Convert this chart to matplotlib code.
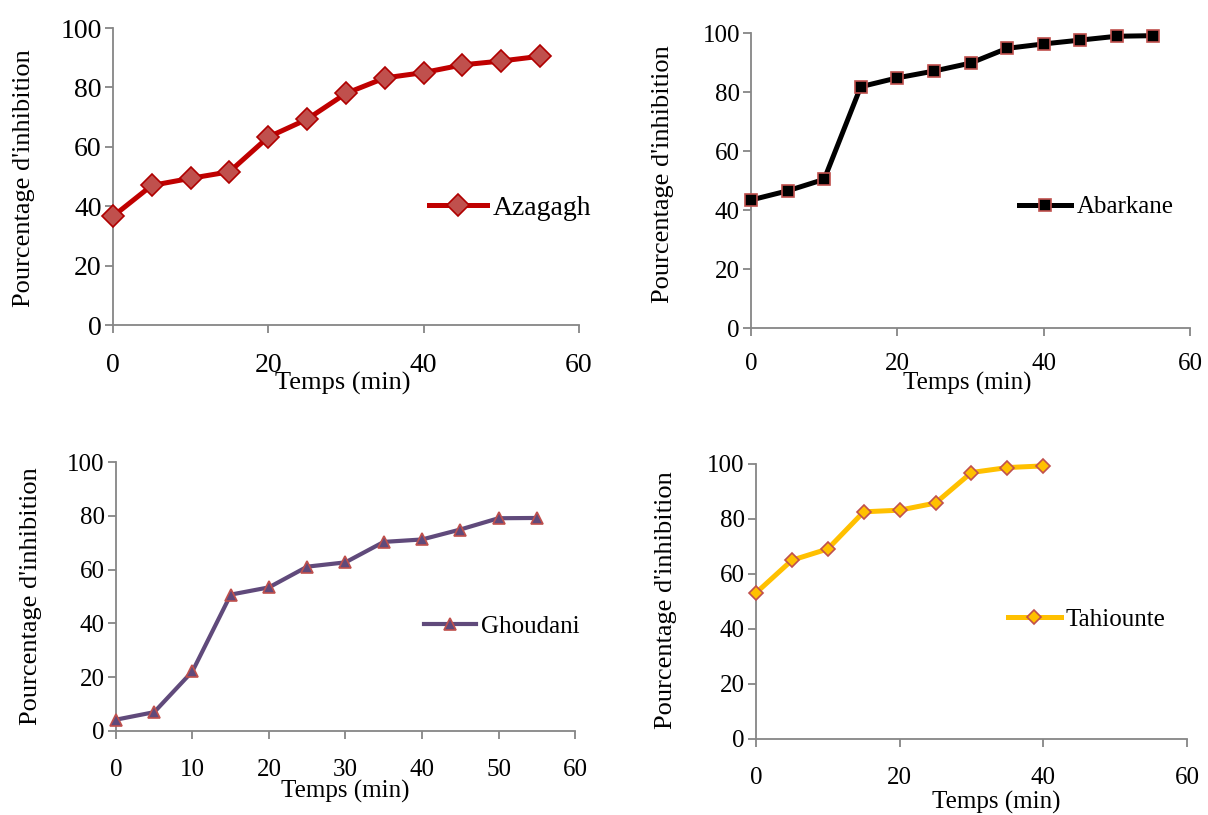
import numpy as np
import matplotlib
matplotlib.use('Agg')
import matplotlib.pyplot as plt

# Data
temps = [0, 5, 10, 15, 20, 25, 30, 35, 40, 45, 50, 55]
temps_tahiounte = [0, 5, 10, 15, 20, 25, 30, 35, 40]

azagagh = [36.6, 47.0, 49.4, 51.6, 63.3, 69.3, 78.0, 83.2, 85.0, 87.6, 88.9, 90.5]
abarkane = [43.4, 46.5, 50.4, 81.8, 84.8, 87.1, 89.8, 94.8, 96.3, 97.6, 98.9, 99.1]
ghoudani = [4.2, 7.0, 22.2, 50.7, 53.4, 61.1, 62.7, 70.3, 71.2, 74.9, 79.1, 79.2]
tahiounte = [53.1, 65.0, 69.1, 82.6, 83.2, 85.8, 96.9, 98.7, 99.3]

plt.rcParams['font.family'] = ['Liberation Serif', 'DejaVu Serif']
AXIS_GRAY = '#868686'

fig = plt.figure(figsize=(12.08, 8.15), dpi=100)

# (axes rect, x, y, name, line colour, marker, marker face, marker edge,
#  line width, marker size, tick font, label font, xticks, legend pos,
#  xlabel pos, ylabel pos, xtick pad)
panels = [
    ([0.0935, 0.6012, 0.3858, 0.3644], temps, azagagh, 'Azagagh',
     '#C00000', 'D', '#C0504D', '#B00000', 3.6, 11, 20, 19,
     [0, 20, 40, 60], (0.678, 0.394), (0.494, -0.197), (-0.19, 0.495), 14),
    ([0.6217, 0.5975, 0.3634, 0.3620], temps, abarkane, 'Abarkane',
     '#000000', 's', '#000000', '#C0504D', 3.6, 8, 18, 18,
     [0, 20, 40, 60], (0.61, 0.41), (0.492, -0.188), (-0.2, 0.52), 12),
    ([0.0960, 0.1031, 0.3800, 0.3300], temps, ghoudani, 'Ghoudani',
     '#604A7B', '^', '#604A7B', '#C0504D', 3.0, 9, 18, 18,
     [0, 10, 20, 30, 40, 50, 60], (0.671, 0.387), (0.499, -0.225), (-0.185, 0.5), 14),
    ([0.6258, 0.0933, 0.3568, 0.3374], temps_tahiounte, tahiounte, 'Tahiounte',
     '#FFC000', 'D', '#FFC000', '#C0504D', 3.6, 7, 18, 18,
     [0, 20, 40, 60], (0.585, 0.433), (0.557, -0.231), (-0.208, 0.505), 14),
]

for (rect, x, y, name, color, marker, mface, medge, lw, ms, tfs, lfs,
     xt, legpos, xlpos, ylpos, xpad) in panels:
    ax = fig.add_axes(rect)
    ax.plot(x, y, color=color, lw=lw, marker=marker, markersize=ms,
            markerfacecolor=mface, markeredgecolor=medge, markeredgewidth=1.2,
            label=name, clip_on=False, zorder=3)

    ax.set_xlim(0, 60)
    ax.set_ylim(0, 100)
    ax.set_xticks(xt)
    ax.set_yticks([0, 20, 40, 60, 80, 100])

    for side in ['top', 'right']:
        ax.spines[side].set_visible(False)
    for side in ['left', 'bottom']:
        ax.spines[side].set_color(AXIS_GRAY)
        ax.spines[side].set_linewidth(1.3)

    ax.tick_params(axis='both', colors=AXIS_GRAY, labelcolor='black',
                   direction='out', length=6, width=1.3, labelsize=tfs)
    ax.tick_params(axis='x', pad=xpad)
    ax.tick_params(axis='y', pad=2)

    ax.set_xlabel('Temps (min)', fontsize=lfs)
    ax.xaxis.set_label_coords(*xlpos)
    ax.xaxis.label.set_va('center')
    ax.set_ylabel("Pourcentage d'inhibition", fontsize=19)
    ax.yaxis.set_label_coords(*ylpos)
    ax.yaxis.label.set_va('center')

    ax.legend(loc='center left', bbox_to_anchor=legpos, frameon=False,
              fontsize=tfs, handlelength=2.1, handletextpad=0.2,
              borderpad=0, borderaxespad=0)

fig.savefig('out.png', dpi=100)
